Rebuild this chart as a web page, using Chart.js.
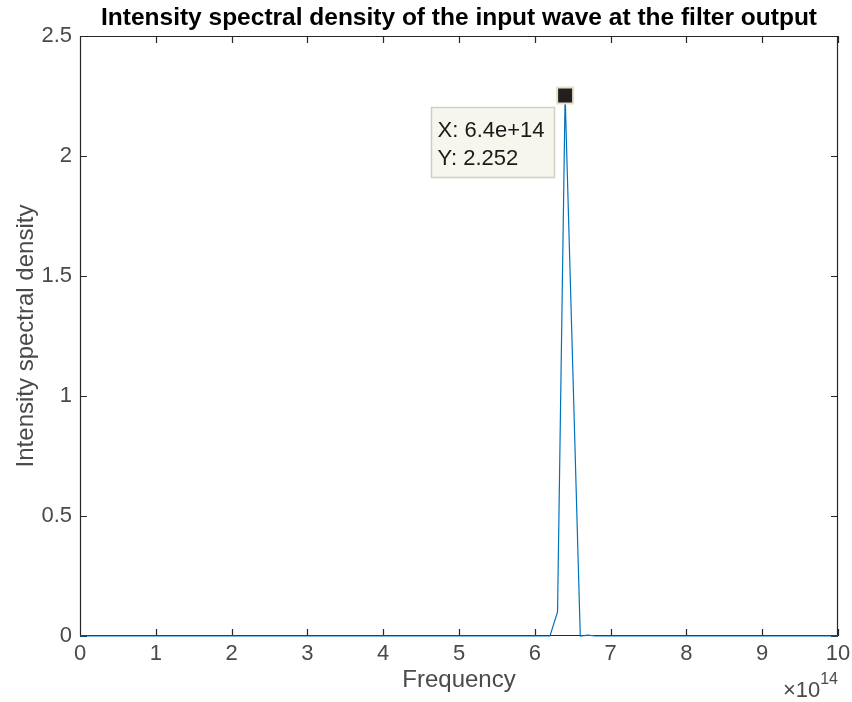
<!DOCTYPE html>
<html>
<head>
<meta charset="utf-8">
<script src="https://cdn.jsdelivr.net/npm/chart.js@4.4.1/dist/chart.umd.min.js"></script>
<style>
    body { margin: 0; background: #fff; }
    #wrap { width: 852px; height: 702px; }
</style>
</head>
<body>
<div id="wrap"><canvas id="psd-chart" width="852" height="702"></canvas></div>
<script>
    "use strict";

    // Data (frequency in units of 1e14)
    var freq = [0, 1, 2, 3, 4, 5, 6, 6.2, 6.3, 6.4, 6.6, 6.7, 6.8, 7, 8, 9, 10];
    var psd  = [0, 0, 0, 0, 0, 0, 0, 0, 0.1, 2.252, 0, 0.004, 0, 0, 0, 0, 0];
    var xTicks = [0, 1, 2, 3, 4, 5, 6, 7, 8, 9, 10];
    var yTicks = [0, 0.5, 1, 1.5, 2, 2.5];
    var tipX = 6.4;
    var tipY = 2.252;

    var axisColor = "#262626";
    var textColor = "#4a4a4a";
    var fontFamily = "'Liberation Sans', Arial, Helvetica, sans-serif";

    var points = freq.map(function (f, i) { return {x: f, y: psd[i]}; });

    // inward ticks + top/right box, like MATLAB axes
    var boxPlugin = {
        id: "matlabBox",
        beforeDatasetsDraw: function (chart) {
            var ctx = chart.ctx, a = chart.chartArea;
            var xs = chart.scales.x, ys = chart.scales.y;
            var len = 7;
            ctx.save();
            ctx.strokeStyle = axisColor;
            ctx.lineWidth = 1.2;
            ctx.beginPath();
            ctx.rect(a.left + 0.5, a.top + 0.5, a.right - a.left - 1, a.bottom - a.top - 1);
            xTicks.forEach(function (v) {
                var p = Math.round(xs.getPixelForValue(v)) + 0.5;
                ctx.moveTo(p, a.bottom);
                ctx.lineTo(p, a.bottom - len);
                ctx.moveTo(p, a.top);
                ctx.lineTo(p, a.top + len);
            });
            yTicks.forEach(function (v) {
                var p = Math.round(ys.getPixelForValue(v)) + 0.5;
                ctx.moveTo(a.left, p);
                ctx.lineTo(a.left + len, p);
                ctx.moveTo(a.right, p);
                ctx.lineTo(a.right - len, p);
            });
            ctx.stroke();

            // x exponent
            ctx.fillStyle = textColor;
            ctx.textBaseline = "alphabetic";
            ctx.textAlign = "right";
            ctx.font = "16px " + fontFamily;
            ctx.fillText("14", a.right, 684);
            var w = ctx.measureText("14").width;
            ctx.font = "22px " + fontFamily;
            ctx.fillText("\u00d710", a.right - w, 697);
            ctx.restore();
        },
        afterDatasetsDraw: function (chart) {
            var ctx = chart.ctx;
            var px = chart.scales.x.getPixelForValue(tipX);
            var py = chart.scales.y.getPixelForValue(tipY);
            ctx.save();
            // datatip box
            var bx = Math.round(px - 134) + 0.5, by = Math.round(py + 11) + 0.5;
            ctx.fillStyle = "#f6f6ee";
            ctx.strokeStyle = "#cfcfc6";
            ctx.lineWidth = 1.5;
            ctx.fillRect(bx, by, 123, 70);
            ctx.strokeRect(bx, by, 123, 70);
            ctx.fillStyle = "#1a1a1a";
            ctx.font = "22px " + fontFamily;
            ctx.textAlign = "left";
            ctx.textBaseline = "alphabetic";
            ctx.fillText("X: " + tipX + "e+14", bx + 6, py + 41);
            ctx.fillText("Y: " + tipY, bx + 6, py + 69);
            // marker
            ctx.fillStyle = "#231f20";
            ctx.strokeStyle = "#e4e2cc";
            ctx.lineWidth = 2;
            ctx.fillRect(px - 8, py - 8, 16, 16);
            ctx.strokeRect(px - 8, py - 8, 16, 16);
            ctx.restore();
        }
    };

    var ctx1 = document.getElementById("psd-chart").getContext("2d");
    var myChart1 = new Chart(ctx1, {
        type: "scatter",
        data: {
            datasets: [{
                label: "PSD",
                data: points,
                showLine: true,
                borderColor: "#0072BD",
                borderWidth: 1.2,
                pointRadius: 0,
                tension: 0,
                clip: 2
            }]
        },
        options: {
            responsive: false,
            animation: false,
            devicePixelRatio: 1,
            layout: { padding: { left: 0, right: 14, top: 0, bottom: 0 } },
            plugins: {
                legend: { display: false },
                tooltip: { enabled: false },
                title: {
                    display: true,
                    fullSize: false,
                    text: "Intensity spectral density of the input wave at the filter output",
                    color: "#000",
                    font: { family: fontFamily, size: 24.5, weight: "bold", lineHeight: 1.2 },
                    padding: { top: 3.5, bottom: 3.1 }
                }
            },
            scales: {
                x: {
                    type: "linear",
                    min: 0,
                    max: 10,
                    afterFit: function (s) { s.height = 66; s.paddingLeft = 0; s.paddingRight = 0; },
                    afterBuildTicks: function (s) { s.ticks = xTicks.map(function (v) { return {value: v}; }); },
                    grid: { display: false, drawTicks: false },
                    border: { display: false },
                    ticks: {
                        color: textColor, padding: 5, font: { family: fontFamily, size: 22 },
                        callback: function (v) { return String(v); }
                    },
                    title: {
                        display: true,
                        text: "Frequency",
                        color: textColor,
                        font: { family: fontFamily, size: 24, lineHeight: 1.2 },
                        padding: { top: 0, bottom: 7 }
                    }
                },
                y: {
                    type: "linear",
                    min: 0,
                    max: 2.5,
                    afterFit: function (s) { s.width = 80; s.paddingTop = 0; s.paddingBottom = 0; },
                    afterBuildTicks: function (s) { s.ticks = yTicks.map(function (v) { return {value: v}; }); },
                    grid: { display: false, drawTicks: false },
                    border: { display: false },
                    ticks: {
                        color: textColor, padding: 8, font: { family: fontFamily, size: 22 },
                        callback: function (v) { return String(v); }
                    },
                    title: {
                        display: true,
                        text: "Intensity spectral density",
                        color: textColor,
                        font: { family: fontFamily, size: 24, lineHeight: 1.2 },
                        padding: { top: 12, bottom: 0 }
                    }
                }
            }
        },
        plugins: [boxPlugin]
    });
</script>
</body>
</html>
